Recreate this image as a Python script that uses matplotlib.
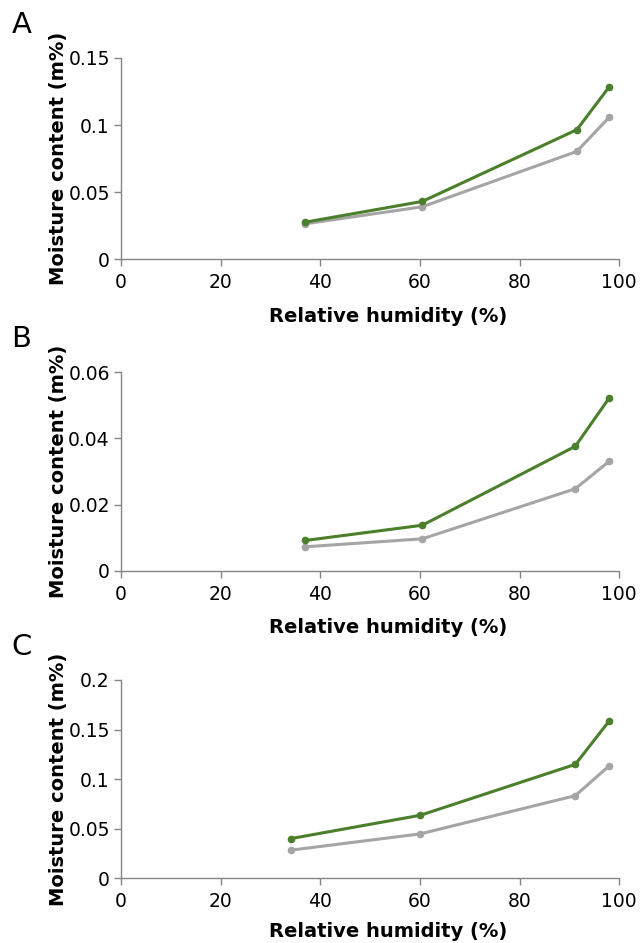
import matplotlib.pyplot as plt

# relative humidity (%) and moisture content (m%) per panel
rh_a = [37, 60.5, 91.5, 98]
green_a = [0.0275, 0.043, 0.0965, 0.1285]
gray_a = [0.0263, 0.039, 0.0803, 0.1058]

rh_b = [37, 60.5, 91.2, 98]
green_b = [0.0092, 0.0138, 0.0376, 0.0522]
gray_b = [0.0073, 0.0097, 0.0248, 0.0331]

rh_c = [34.2, 60.1, 91.2, 98]
green_c = [0.0399, 0.0634, 0.1148, 0.1587]
gray_c = [0.0282, 0.0446, 0.0832, 0.1134]

panels = ["A", "B", "C"]
ymax = [0.15, 0.06, 0.2]
yticks = [[0, 0.05, 0.1, 0.15], [0, 0.02, 0.04, 0.06], [0, 0.05, 0.1, 0.15, 0.2]]
yticklabels = [["0", "0.05", "0.1", "0.15"], ["0", "0.02", "0.04", "0.06"],
               ["0", "0.05", "0.1", "0.15", "0.2"]]
xs = [rh_a, rh_b, rh_c]
greens = [green_a, green_b, green_c]
grays = [gray_a, gray_b, gray_c]

GREEN = "#4b7f2b"
GRAY = "#a5a5a5"
AXC = "#858585"

fig = plt.figure(figsize=(6.43, 9.43), dpi=100)
bottoms = [0.7253, 0.3945, 0.0689]
heights = [0.2132, 0.211, 0.21]
xpads = [11, 10, 8]

for i in range(3):
    ax = fig.add_axes([0.188, bottoms[i], 0.775, heights[i]])
    ax.plot(xs[i], grays[i], color=GRAY, lw=2.2, marker="o", ms=4.5, zorder=2)
    ax.plot(xs[i], greens[i], color=GREEN, lw=2.2, marker="o", ms=4.5, zorder=3)
    ax.set_xlim(0, 100)
    ax.set_ylim(0, ymax[i])
    ax.set_xticks([0, 20, 40, 60, 80, 100])
    ax.set_yticks(yticks[i])
    ax.set_yticklabels(yticklabels[i])
    for s in ["top", "right"]:
        ax.spines[s].set_visible(False)
    for s in ["left", "bottom"]:
        ax.spines[s].set_color(AXC)
        ax.spines[s].set_linewidth(1.0)
    ax.tick_params(colors=AXC, labelcolor="black", labelsize=13.5, length=5, width=1.0)
    ax.tick_params(axis="x", pad=5)
    ax.tick_params(axis="y", pad=3)
    ax.set_xlabel("Relative humidity (%)", fontsize=14, fontweight="bold", labelpad=xpads[i])
    ax.xaxis.label.set_x(0.536)
    ax.set_ylabel("Moisture content (m%)", fontsize=14, fontweight="bold", labelpad=0)
    fig.text(0.018, bottoms[i] + heights[i] + 0.035, panels[i], fontsize=21, va="center", ha="left")

plt.savefig("out.png", dpi=100)
